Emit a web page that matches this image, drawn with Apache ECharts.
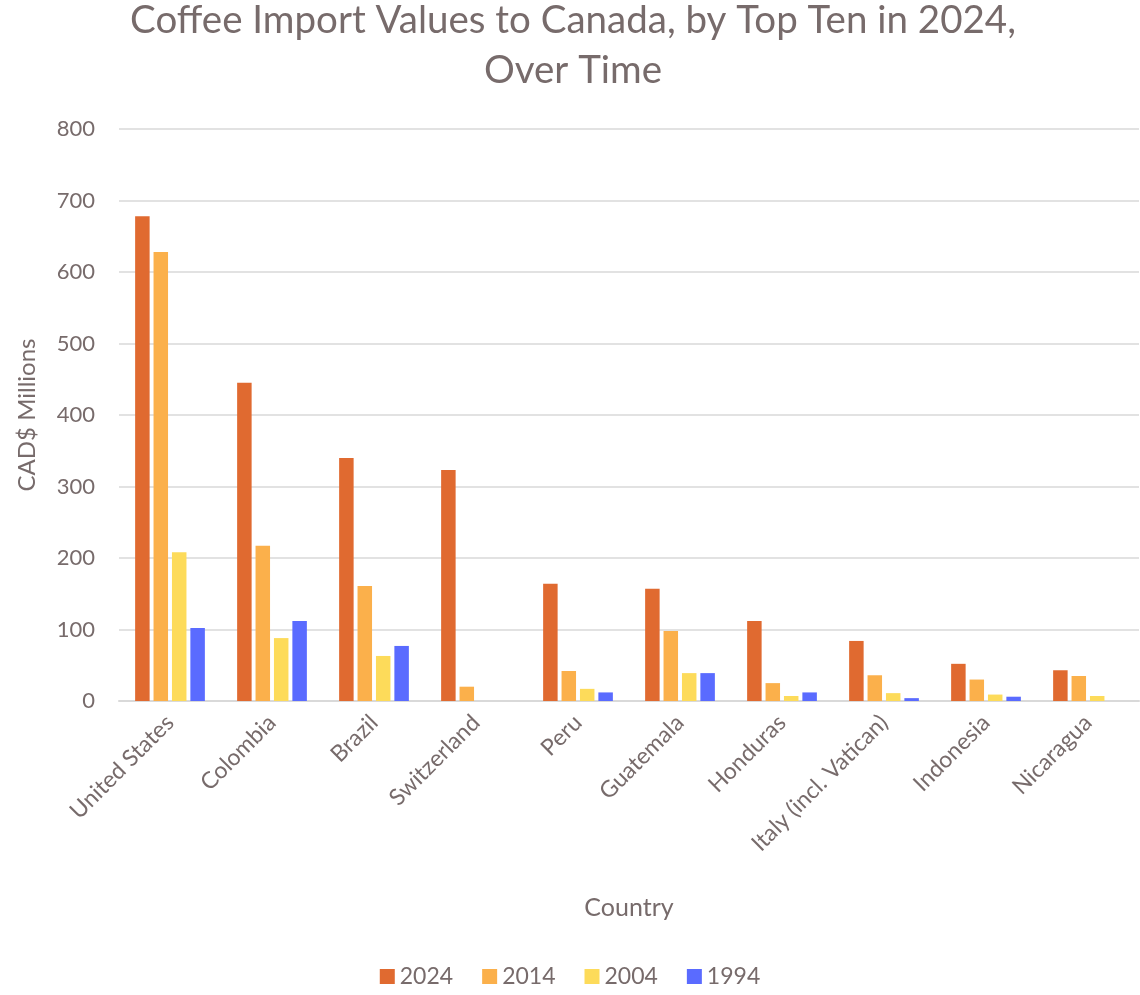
<!DOCTYPE html>
<html><head><meta charset="utf-8">
<script src="https://cdn.jsdelivr.net/npm/echarts@6/dist/echarts.min.js"></script>
<style>html,body{margin:0;padding:0;background:#fff}#c{width:1140px;height:995px}</style>
</head><body><div id="c"></div>
<script>
const countries = ["United States","Colombia","Brazil","Switzerland","Peru","Guatemala","Honduras","Italy (incl. Vatican)","Indonesia","Nicaragua"];
const years = ["2024","2014","2004","1994"];
const v2024 = [678,445,340,323,164,157,112,84,52,43];
const v2014 = [628,217,161,20,42,98,25,36,30,35];
const v2004 = [208,88,63,0,17,39,7,11,9,7];
const v1994 = [102,112,77,0,12,39,12,4,6,0];
const yTicks = [0,100,200,300,400,500,600,700,800];
const colors = ["#E06A30","#FBB04B","#FDDB5A","#5A6BFF"];
const txt = "#776b6b";
const font = "Lato";
const chart = echarts.init(document.getElementById('c'));
const seriesData = [v2024,v2014,v2004,v1994];
chart.setOption({
  animation:false,
  textStyle:{fontFamily:font},
  title:{text:"Coffee Import Values to Canada, by Top Ten in 2024,\nOver Time",left:568,textAlign:'center',top:-9,
    textStyle:{fontFamily:font,fontSize:38.5,fontWeight:'normal',color:txt,lineHeight:50}},
  legend:{bottom:2,left:'center',itemWidth:15,itemHeight:15,itemGap:29,icon:'rect',
    textStyle:{fontFamily:font,fontSize:23,color:txt},data:years},
  grid:{left:119,right:1,top:129,bottom:294,containLabel:false},
  xAxis:{type:'category',data:countries,name:'Country',nameLocation:'middle',nameGap:194,
    nameTextStyle:{fontFamily:font,fontSize:25,color:txt},
    axisLine:{lineStyle:{color:'#d9d9d9',width:2}},axisTick:{show:false},
    axisLabel:{rotate:45,fontSize:23,color:txt,fontFamily:font,interval:0,margin:18}},
  yAxis:{type:'value',min:yTicks[0],max:yTicks[yTicks.length-1],interval:100,name:'CAD$ Millions',nameLocation:'middle',nameGap:80,
    nameTextStyle:{fontFamily:font,fontSize:24,color:txt},
    axisLine:{show:false},axisTick:{show:false},
    axisLabel:{fontSize:22,color:txt,fontFamily:font,margin:24},
    splitLine:{lineStyle:{color:'#d9d9d9',width:1.5}}},
  series:years.map((y,i)=>({name:y,type:'bar',data:seriesData[i],barWidth:14.5,barGap:'27%',
    itemStyle:{color:colors[i]}}))
});
</script></body></html>
